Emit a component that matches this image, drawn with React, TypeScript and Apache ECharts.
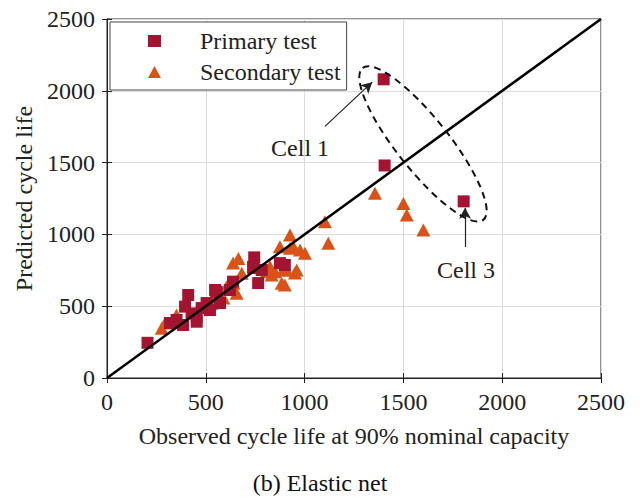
import React, { useEffect, useRef } from "react";
import * as echarts from "echarts";

const primaryTest: number[][] = [
  [205, 245], [1400, 2080], [1405, 1480], [1805, 1230],
  [411, 578], [395, 497], [428, 450], [454, 427], [352, 404], [319, 383],
  [385, 369], [555, 601], [572, 522], [479, 487], [521, 473], [454, 392],
  [745, 840], [740, 766], [765, 661], [547, 613], [504, 522], [622, 613],
  [900, 787], [783, 752], [740, 775], [875, 800], [638, 671],
];

const secondaryTest: number[][] = [
  [277, 346], [294, 383], [352, 439], [530, 543], [665, 833], [638, 801],
  [682, 729], [640, 659], [605, 636], [656, 590], [589, 557], [530, 520],
  [808, 740], [850, 740], [892, 752], [884, 659], [951, 731], [926, 903],
  [875, 914], [833, 717], [1103, 1088], [1120, 938], [926, 996], [977, 891],
  [943, 914], [1002, 868], [960, 752], [825, 775], [909, 752], [1356, 1286],
  [1500, 1216], [1517, 1135], [1601, 1031], [900, 648],
];

const diagonal: number[][] = [[0, 0], [2500, 2500]];
const axisTicks = [0, 500, 1000, 1500, 2000, 2500];

const cell1Arrow = [[1103, 1752], [1342, 2060]];
const cell3Arrow = [[1812, 912], [1812, 1185]];
const cell1Label = [977, 1602];
const cell3Label = [1817, 752];
const ellipseCenter = [1599, 1630];

const FONT = "'Liberation Serif', 'Times New Roman', 'DejaVu Serif', serif";
const TXT = "#222";
const FS = 24;

export default function App() {
  const ref = useRef<HTMLDivElement>(null);
  useEffect(() => {
    if (!ref.current) return;
    const chart = echarts.init(ref.current, undefined, { renderer: "svg" });
    const valueAxisCommon = {
      type: "value" as const,
      min: axisTicks[0],
      max: axisTicks[axisTicks.length - 1],
      interval: 500,
    };
    const fmt = (v: number) => String(v);
    chart.setOption({
      animation: false,
      backgroundColor: "#fff",
      textStyle: { fontFamily: FONT },
      grid: {
        left: 107, top: 19, right: 39, bottom: 120,
        show: true, borderColor: "#222", borderWidth: 1, backgroundColor: "transparent",
      },
      legend: {
        orient: "vertical",
        left: 110, top: 22,
        backgroundColor: "#fff",
        borderColor: "#444",
        borderWidth: 1,
        padding: [7, 6, 6, 38],
        itemGap: 7,
        itemWidth: 13,
        itemHeight: 12,
        textStyle: { fontFamily: FONT, fontSize: FS, color: TXT, lineHeight: 24, padding: [0, 0, 0, 34] },
        data: [
          { name: "Primary test", icon: "rect" },
          { name: "Secondary test", icon: "triangle" },
        ],
      },
      xAxis: [
        {
          ...valueAxisCommon,
          position: "bottom",
          name: "Observed cycle life at 90% nominal capacity",
          nameLocation: "middle",
          nameGap: 46,
          nameTextStyle: { fontFamily: FONT, fontSize: FS, color: TXT },
          axisLine: { show: true, lineStyle: { color: "#222", width: 1 } },
          axisTick: { show: true, inside: true, length: 5, lineStyle: { color: "#222" } },
          axisLabel: { fontFamily: FONT, fontSize: FS, color: TXT, margin: 12, formatter: fmt },
          splitLine: { show: true, lineStyle: { color: "#dcdcdc", width: 1 } },
        },
        {
          ...valueAxisCommon,
          position: "top",
          axisLine: { show: true, lineStyle: { color: "#222", width: 1 } },
          axisTick: { show: true, inside: true, length: 5, lineStyle: { color: "#222" } },
          axisLabel: { show: false },
          splitLine: { show: false },
        },
      ],
      yAxis: [
        {
          ...valueAxisCommon,
          position: "left",
          name: "Predicted cycle life",
          nameLocation: "middle",
          nameGap: 71,
          nameRotate: 90,
          nameTextStyle: { fontFamily: FONT, fontSize: FS, color: TXT },
          axisLine: { show: true, lineStyle: { color: "#222", width: 1 } },
          axisTick: { show: true, inside: true, length: 5, lineStyle: { color: "#222" } },
          axisLabel: { fontFamily: FONT, fontSize: FS, color: TXT, margin: 12, formatter: fmt },
          splitLine: { show: true, lineStyle: { color: "#dcdcdc", width: 1 } },
        },
        {
          ...valueAxisCommon,
          position: "right",
          axisLine: { show: true, lineStyle: { color: "#222", width: 1 } },
          axisTick: { show: true, inside: true, length: 5, lineStyle: { color: "#222" } },
          axisLabel: { show: false },
          splitLine: { show: false },
        },
      ],
      series: [
        {
          name: "diagonal",
          type: "line",
          data: diagonal,
          symbol: "none",
          lineStyle: { color: "#000", width: 2.5 },
          z: 3,
          silent: true,
          markLine: {
            silent: true,
            symbol: ["none", "arrow"],
            symbolSize: [9, 11],
            lineStyle: { color: "#222", width: 1.2, type: "solid" },
            label: { show: false },
            data: [
              [{ coord: cell1Arrow[0] }, { coord: cell1Arrow[1] }],
              [{ coord: cell3Arrow[0] }, { coord: cell3Arrow[1] }],
            ],
          },
        },
        {
          name: "Secondary test",
          type: "scatter",
          data: secondaryTest,
          symbol: "triangle",
          symbolSize: [14, 13],
          itemStyle: { color: "#D95319", opacity: 1 },
          z: 2,
        },
        {
          name: "Primary test",
          type: "scatter",
          data: primaryTest,
          symbol: "rect",
          symbolSize: 12,
          itemStyle: { color: "#A2142F", opacity: 1 },
          z: 2,
        },
      ],
    });

    const c1 = chart.convertToPixel({ gridIndex: 0 }, cell1Label) as number[];
    const c3 = chart.convertToPixel({ gridIndex: 0 }, cell3Label) as number[];
    const ec = chart.convertToPixel({ gridIndex: 0 }, ellipseCenter) as number[];
    chart.setOption({
      graphic: [
        {
          type: "text",
          x: c1[0], y: c1[1],
          style: { text: "Cell 1", fontFamily: FONT, fontSize: FS, fill: TXT, align: "center", verticalAlign: "middle" },
        },
        {
          type: "text",
          x: c3[0], y: c3[1],
          style: { text: "Cell 3", fontFamily: FONT, fontSize: FS, fill: TXT, align: "center", verticalAlign: "middle" },
        },
        {
          type: "ellipse",
          x: ec[0], y: ec[1],
          rotation: -0.9,
          shape: { cx: 0, cy: 0, rx: 97, ry: 26 },
          style: { fill: "none", stroke: "#111", lineWidth: 2, lineDash: [7, 5] },
          z: 10,
        },
        {
          type: "text",
          left: "center",
          top: 471,
          style: { text: "(b) Elastic net", fontFamily: FONT, fontSize: FS, fill: "#111" },
        },
      ],
    });
    return () => chart.dispose();
  }, []);
  return <div ref={ref} style={{ width: 640, height: 498, position: "absolute", left: 0, top: 0 }} />;
}
